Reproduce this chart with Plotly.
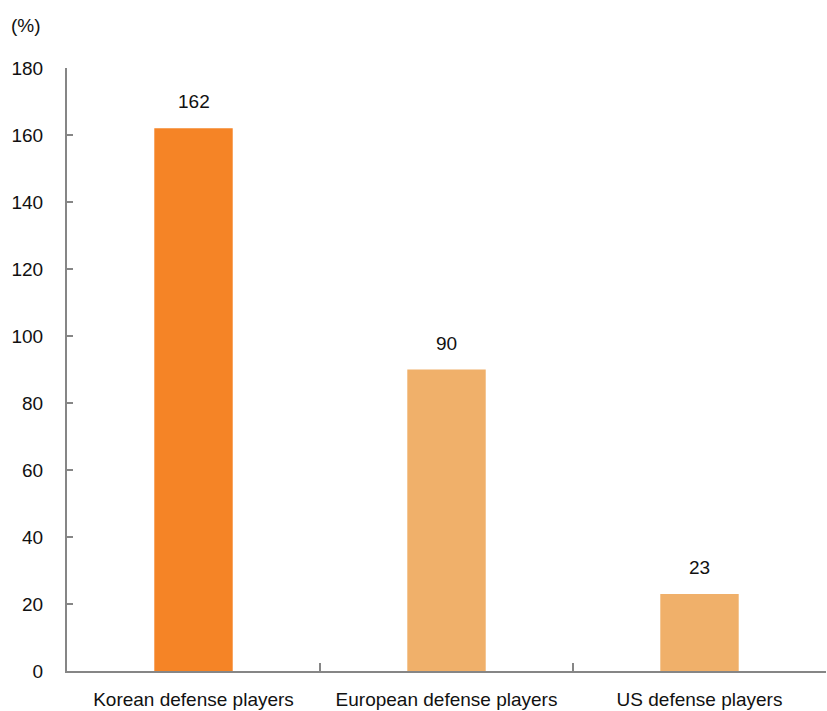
import plotly.graph_objects as go

categories = ["Korean defense players", "European defense players", "US defense players"]
values = [162, 90, 23]
bar_colors = ["#F58426", "#F0B06A", "#F0B06A"]
y_ticks = [0, 20, 40, 60, 80, 100, 120, 140, 160, 180]

FONT = "Liberation Sans, Arial, sans-serif"
AXIS_GRAY = "#868686"

fig = go.Figure()
fig.add_trace(go.Bar(
    x=categories,
    y=values,
    marker=dict(color=bar_colors, line=dict(width=0)),
    width=0.31,
    hoverinfo="x+y",
))

# value labels above each bar
for c, v in zip(categories, values):
    fig.add_annotation(
        x=c, y=v, text=str(v), showarrow=False,
        yanchor="bottom", yshift=14,
        font=dict(family=FONT, size=19, color="#111111"),
    )

# unit label
fig.add_annotation(
    x=0, y=1, xref="paper", yref="paper", xshift=-58, yshift=55,
    text="(%)", showarrow=False, xanchor="left", yanchor="top",
    font=dict(family=FONT, size=19, color="#111111"),
)

fig.update_layout(
    width=827, height=711,
    margin=dict(l=67, r=1, t=68, b=40),
    plot_bgcolor="white", paper_bgcolor="white",
    showlegend=False,
    bargap=0.69,
    font=dict(family=FONT, size=19, color="#111111"),
)
fig.update_xaxes(
    type="category",
    showline=True, linecolor=AXIS_GRAY, linewidth=2,
    ticks="inside", tickson="boundaries", ticklen=8, tickwidth=1.5, tickcolor=AXIS_GRAY,
    showgrid=False, zeroline=False,
    ticklabelstandoff=10,
)
fig.update_yaxes(
    range=[0, 180], tickvals=y_ticks,
    showline=True, linecolor=AXIS_GRAY, linewidth=2,
    ticks="inside", ticklen=6, tickwidth=1.5, tickcolor=AXIS_GRAY,
    showgrid=False, zeroline=False,
    ticklabelstandoff=18,
)

fig.write_html("out.html")
